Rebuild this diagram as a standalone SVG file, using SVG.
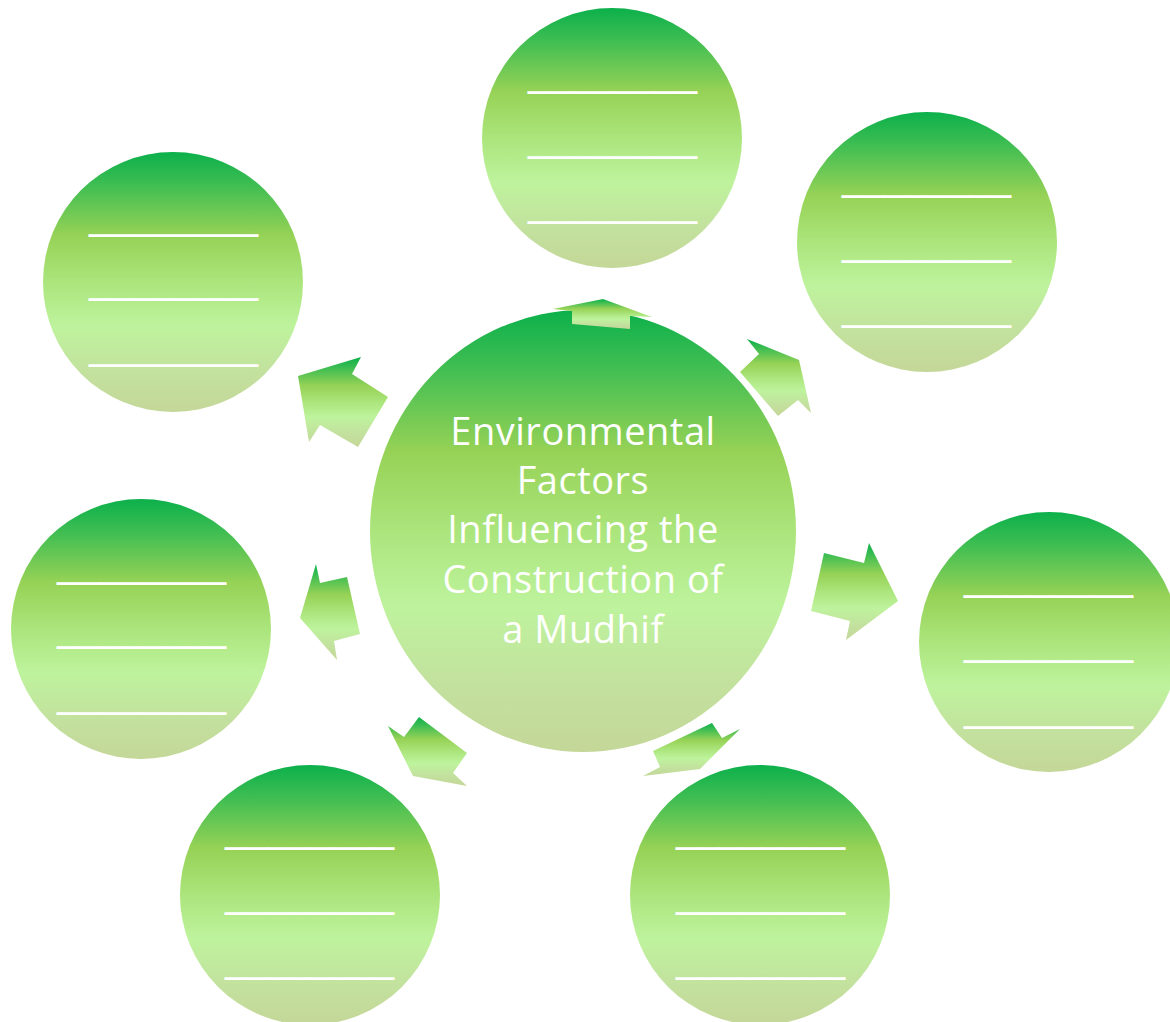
<svg xmlns="http://www.w3.org/2000/svg" width="1170" height="1022" viewBox="0 0 1170 1022">
<defs>
<linearGradient id="g" x1="0" y1="0" x2="0" y2="1">
<stop offset="0" stop-color="#0cb04b"/>
<stop offset="0.12" stop-color="#3cbd52"/>
<stop offset="0.32" stop-color="#96d256"/>
<stop offset="0.5" stop-color="#abe57c"/>
<stop offset="0.67" stop-color="#bef39d"/>
<stop offset="0.85" stop-color="#c3e19e"/>
<stop offset="1" stop-color="#c4d798"/>
</linearGradient>
</defs>
<style>
.c{fill:url(#g);}
.a{fill:url(#g);}
.u{font-family:"Liberation Sans",Arial,sans-serif;font-size:44px;fill:#ffffff;}
.t{font-family:"Open Sans",Lato,sans-serif;font-size:38px;letter-spacing:0.5px;fill:#ffffff;text-anchor:middle;}
</style>
<g id="node-top">
<circle class="c" cx="612" cy="138" r="130"/>
<text class="u" x="528" y="85" textLength="169" lengthAdjust="spacingAndGlyphs">________</text>
<text class="u" x="528" y="150" textLength="169" lengthAdjust="spacingAndGlyphs">________</text>
<text class="u" x="528" y="215" textLength="169" lengthAdjust="spacingAndGlyphs">________</text>
</g>
<g id="node-top-right">
<circle class="c" cx="927" cy="242" r="130"/>
<text class="u" x="842" y="189" textLength="169" lengthAdjust="spacingAndGlyphs">________</text>
<text class="u" x="842" y="254" textLength="169" lengthAdjust="spacingAndGlyphs">________</text>
<text class="u" x="842" y="319" textLength="169" lengthAdjust="spacingAndGlyphs">________</text>
</g>
<g id="node-right">
<circle class="c" cx="1049" cy="642" r="130"/>
<text class="u" x="964" y="589" textLength="169" lengthAdjust="spacingAndGlyphs">________</text>
<text class="u" x="964" y="654" textLength="169" lengthAdjust="spacingAndGlyphs">________</text>
<text class="u" x="964" y="720" textLength="169" lengthAdjust="spacingAndGlyphs">________</text>
</g>
<g id="node-bottom-right">
<circle class="c" cx="760" cy="895" r="130"/>
<text class="u" x="676" y="841" textLength="169" lengthAdjust="spacingAndGlyphs">________</text>
<text class="u" x="676" y="906" textLength="169" lengthAdjust="spacingAndGlyphs">________</text>
<text class="u" x="676" y="971" textLength="169" lengthAdjust="spacingAndGlyphs">________</text>
</g>
<g id="node-bottom-left">
<circle class="c" cx="310" cy="895" r="130"/>
<text class="u" x="225" y="841" textLength="169" lengthAdjust="spacingAndGlyphs">________</text>
<text class="u" x="225" y="906" textLength="169" lengthAdjust="spacingAndGlyphs">________</text>
<text class="u" x="225" y="971" textLength="169" lengthAdjust="spacingAndGlyphs">________</text>
</g>
<g id="node-left">
<circle class="c" cx="141" cy="629" r="130"/>
<text class="u" x="57" y="576" textLength="169" lengthAdjust="spacingAndGlyphs">________</text>
<text class="u" x="57" y="640" textLength="169" lengthAdjust="spacingAndGlyphs">________</text>
<text class="u" x="57" y="706" textLength="169" lengthAdjust="spacingAndGlyphs">________</text>
</g>
<g id="node-top-left">
<circle class="c" cx="173" cy="282" r="130"/>
<text class="u" x="89" y="228" textLength="169" lengthAdjust="spacingAndGlyphs">________</text>
<text class="u" x="89" y="292" textLength="169" lengthAdjust="spacingAndGlyphs">________</text>
<text class="u" x="89" y="358" textLength="169" lengthAdjust="spacingAndGlyphs">________</text>
</g>
<g id="node-center">
<ellipse class="c" cx="583" cy="531" rx="213" ry="221"/>
<text class="t" x="583" y="445">Environmental</text>
<text class="t" x="583" y="494">Factors</text>
<text class="t" x="583" y="543">Influencing the</text>
<text class="t" x="583" y="593">Construction of</text>
<text class="t" x="583" y="643">a Mudhif</text>
</g>
<g id="connectors">
<polygon class="a" points="603,299 652,317 630,316 630,329 572,324 572,311 553,309"/>
<polygon class="a" points="747,339 799,360 811,413 798,400 778,416 740,372 759,354"/>
<polygon class="a" points="298,376 361,357 352,374 388,397 358,447 320,425 309,442"/>
<polygon class="a" points="824,553 864,563 869,543 898,601 846,640 850,621 811,611"/>
<polygon class="a" points="316,564 320,583 347,577 360,634 334,641 337,660 300,618"/>
<polygon class="a" points="388,726 404,737 419,717 467,753 453,773 467,786 413,776"/>
<polygon class="a" points="653,751 712,723 722,738 740,729 700,769 643,776 660,767"/>
</g>
</svg>
